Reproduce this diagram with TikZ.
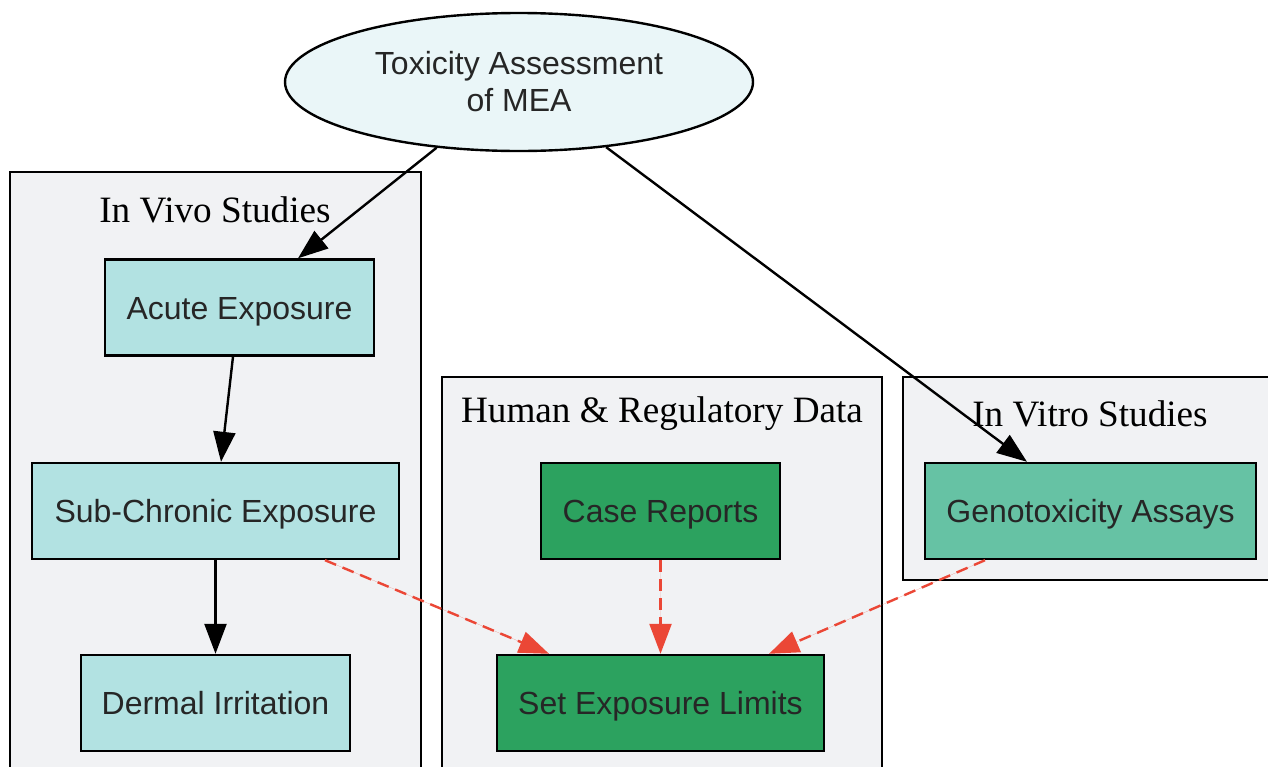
\documentclass[tikz,border=0pt]{standalone}
\usepackage{fontspec}
\setmainfont{Liberation Serif}
\newfontfamily\arialfont{Liberation Sans}
\usetikzlibrary{shapes.geometric,arrows.meta,calc}
\definecolor{clusterbg}{HTML}{F1F2F4}
\definecolor{topbg}{HTML}{EAF6F8}
\definecolor{vivobg}{HTML}{B2E2E2}
\definecolor{humanbg}{HTML}{2CA25F}
\definecolor{vitrobg}{HTML}{66C2A4}
\definecolor{linkred}{HTML}{EB4736}
\definecolor{nodetext}{HTML}{262626}
\tikzset{
  cluster/.style={draw=black, fill=clusterbg, line width=2.2pt},
  clusterlabel/.style={font=\fontsize{37.2}{40}\selectfont, text=black},
  box/.style={draw=black, line width=2.4pt, inner sep=0pt, text=nodetext,
    font=\arialfont\fontsize{32}{38}\selectfont, minimum height=96pt,
    text height=23pt, text depth=0pt},
  flow/.style={line width=2.4pt, -{Triangle[length=30pt,width=22pt]}},
  limit/.style={flow, draw=linkred, fill=linkred, dash pattern=on 12pt off 7pt}
}
\begin{document}
\begin{tikzpicture}[x=1pt, y=-1pt]
		\clip (0,0) rectangle (1268,766);
		\fill [white] (0,0) rectangle (1268,766);
		% clusters
		\draw [cluster] (10,172) rectangle (421,790);
		\node (vivolabel) at (215,210) [clusterlabel] {In Vivo Studies};
		\draw [cluster] (442,377) rectangle (882,790);
		\node (humanlabel) at (662,414) [clusterlabel] {Human \& Regulatory Data};
		\draw [cluster] (903,377) rectangle (1290,580);
		\node (vitrolabel) at (1090,414) [clusterlabel] {In Vitro Studies};
		
		\node (mea) at (519,82) [ellipse, draw=black, line width=2.4pt, fill=topbg, inner sep=0pt,
			minimum width=468pt, minimum height=138pt, align=center, text=nodetext,
			font=\arialfont\fontsize{32}{37}\selectfont] {Toxicity Assessment\\of MEA};
		
		\node (acute) at (239.5,307.5) [box, fill=vivobg, minimum width=269pt] {Acute Exposure};
		\node (subchronic) at (215.5,511) [box, fill=vivobg, minimum width=367pt] {Sub-Chronic Exposure};
		\node (dermal) at (215.5,703) [box, fill=vivobg, minimum width=269pt] {Dermal Irritation};
		
		\node (cases) at (660.5,511) [box, fill=humanbg, minimum width=239pt] {Case Reports};
		\node (limits) at (660.5,703) [box, fill=humanbg, minimum width=327pt] {Set Exposure Limits};
		
		\node (genotox) at (1090.5,511) [box, fill=vitrobg, minimum width=331pt] {Genotoxicity Assays};
		
		\draw [flow] (mea) -- ($(acute.north)+(58.5,0)$);
		\draw [flow] (mea) -- ($(genotox.north)+(-63.5,0)$);
		\draw [flow] ($(acute.south)+(-6.5,0)$) -- ($(subchronic.north)+(5.5,0)$);
		\draw [flow] (subchronic) -- (dermal);
		
		\draw [limit] ($(subchronic.south)+(109.5,0)$) -- ($(limits.north)+(-111.5,0)$);
		\draw [limit] (cases) -- (limits);
		\draw [limit] ($(genotox.south)+(-105.5,0)$) -- ($(limits.north)+(108.5,0)$);
\end{tikzpicture}
\end{document}
